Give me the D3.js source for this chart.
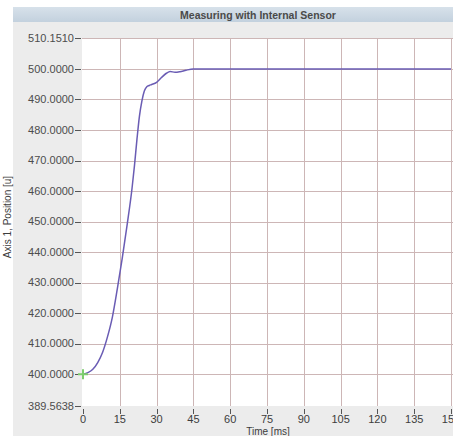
<!DOCTYPE html>
<html>
<head>
<meta charset="utf-8">
<script src="https://cdn.jsdelivr.net/npm/d3@7"></script>
<style>
  html, body { margin: 0; padding: 0; background: #fff; }
  svg { display: block; font-family: "Liberation Sans", Arial, sans-serif; }
</style>
</head>
<body>
<div id="chart"></div>
<script>
  // measured trace: time [ms] and axis position [u]
  const timeMs = [0, 2, 4, 6, 8, 10, 12, 14, 16, 18, 20, 21, 22, 23, 24, 25, 26, 27, 28, 30, 32, 34, 35.5, 37.5, 39.5, 42, 45,
    50, 55, 60, 65, 70, 75, 80, 85, 90, 95, 100, 105, 110, 115, 120, 125, 130, 135, 140, 145, 150];
  const position = [400, 400.5, 401.6, 403.8, 407.2, 412.3, 418.8, 428, 438, 449, 461, 468.5, 477, 484.5, 489.5, 492.8, 494.2, 494.6, 494.9, 495.6, 497.2, 498.6, 499.2, 498.9, 499.1, 499.6, 500,
    500.02, 499.98, 500.01, 500.03, 499.99, 500.0, 500.02, 499.98, 500.01, 500.0, 499.98, 500.02, 500.0, 499.99, 500.01, 500.02, 499.98, 500.0, 500.01, 499.99, 500.0];

  const yTicks = [400, 410, 420, 430, 440, 450, 460, 470, 480, 490, 500];
  const yMin = 389.5638, yMax = 510.1510;
  const xTicks = [0, 15, 30, 45, 60, 75, 90, 105, 120, 135, 150];

  const W = 453, H = 436;
  const plot = { left: 82, right: 451, top: 38, bottom: 406 };

  const x = d3.scaleLinear().domain([0, 150]).range([plot.left + 1, plot.right]);
  const y = d3.scaleLinear().domain([yMin, yMax]).range([plot.bottom, plot.top]);

  const svg = d3.select("#chart").append("svg")
    .attr("width", W)
    .attr("height", H);

  const defs = svg.append("defs");
  const grad = defs.append("linearGradient").attr("id", "titleGrad")
    .attr("x1", 0).attr("y1", 0).attr("x2", 0).attr("y2", 1);
  grad.append("stop").attr("offset", "0%").attr("stop-color", "#d7e1ea");
  grad.append("stop").attr("offset", "100%").attr("stop-color", "#c3d1de");

  // grey panel behind axes
  svg.append("rect")
    .attr("x", 13).attr("y", 7)
    .attr("width", W - 13).attr("height", H - 7)
    .attr("fill", "#ececec");

  // title bar
  svg.append("rect")
    .attr("x", 13).attr("y", 7)
    .attr("width", W - 13).attr("height", 15)
    .attr("fill", "url(#titleGrad)");
  svg.append("text")
    .attr("x", 258).attr("y", 18.5)
    .attr("text-anchor", "middle")
    .attr("font-size", 10.5)
    .attr("font-weight", "bold")
    .attr("fill", "#4a4a4a")
    .text("Measuring with Internal Sensor");

  // plot area
  svg.append("rect")
    .attr("x", plot.left).attr("y", plot.top)
    .attr("width", W - plot.left).attr("height", plot.bottom - plot.top)
    .attr("fill", "#ffffff");

  const grid = svg.append("g").attr("stroke", "#cdb6b6").attr("stroke-width", 1);
  grid.selectAll("line.h")
    .data(yTicks.concat([yMax]))
    .join("line")
      .attr("class", "h")
      .attr("x1", plot.left).attr("x2", W)
      .attr("y1", d => Math.round(y(d)) + 0.5)
      .attr("y2", d => Math.round(y(d)) + 0.5);
  grid.selectAll("line.v")
    .data(xTicks.slice(1))
    .join("line")
      .attr("class", "v")
      .attr("x1", d => Math.round(x(d)) + 0.5)
      .attr("x2", d => Math.round(x(d)) + 0.5)
      .attr("y1", plot.top).attr("y2", plot.bottom);

  // y axis ticks + labels
  const yAxis = svg.append("g");
  const yLabels = yTicks.map(d => ({ v: d, t: d.toFixed(4) }))
    .concat([{ v: yMin, t: "389.5638" }, { v: yMax, t: "510.1510" }]);
  yAxis.selectAll("line")
    .data(yLabels)
    .join("line")
      .attr("x1", plot.left - 7).attr("x2", plot.left - 1)
      .attr("y1", d => Math.round(y(d.v)) + 0.5)
      .attr("y2", d => Math.round(y(d.v)) + 0.5)
      .attr("stroke", "#555");
  yAxis.selectAll("text")
    .data(yLabels)
    .join("text")
      .attr("x", plot.left - 8)
      .attr("y", d => y(d.v))
      .attr("dy", "0.35em")
      .attr("text-anchor", "end")
      .attr("font-size", 11)
      .attr("fill", "#4d4d4d")
      .text(d => d.t);

  // x axis ticks + labels
  const xAxis = svg.append("g");
  xAxis.selectAll("line")
    .data(xTicks)
    .join("line")
      .attr("x1", d => Math.round(x(d)) + 0.5)
      .attr("x2", d => Math.round(x(d)) + 0.5)
      .attr("y1", plot.bottom + 3).attr("y2", plot.bottom + 8)
      .attr("stroke", "#555");
  xAxis.selectAll("text")
    .data(xTicks)
    .join("text")
      .attr("x", d => x(d))
      .attr("y", plot.bottom + 17)
      .attr("text-anchor", "middle")
      .attr("font-size", 11)
      .attr("fill", "#3d3d3d")
      .text(d => d);

  svg.append("text")
    .attr("x", 268).attr("y", plot.bottom + 29)
    .attr("text-anchor", "middle")
    .attr("font-size", 10)
    .attr("fill", "#3d3d3d")
    .text("Time [ms]");

  svg.append("text")
    .attr("transform", `translate(11, ${(plot.top + plot.bottom) / 2 - 5}) rotate(-90)`)
    .attr("text-anchor", "middle")
    .attr("font-size", 10)
    .attr("fill", "#3d3d3d")
    .text("Axis 1, Position [u]");

  // measured curve
  const line = d3.line()
    .x((d, i) => x(timeMs[i]))
    .y(d => y(d))
    .curve(d3.curveMonotoneX);
  svg.append("path")
    .datum(position)
    .attr("d", line)
    .attr("fill", "none")
    .attr("stroke", "#6a5cb4")
    .attr("stroke-width", 1.5);

  // trigger marker
  const mx = x(timeMs[0]), my = y(position[0]);
  svg.append("path")
    .attr("d", `M${mx - 5},${my}H${mx + 5}M${mx},${my - 5}V${my + 5}`)
    .attr("stroke", "#7ccd6e")
    .attr("stroke-width", 2)
    .attr("fill", "none");
</script>
</body>
</html>
